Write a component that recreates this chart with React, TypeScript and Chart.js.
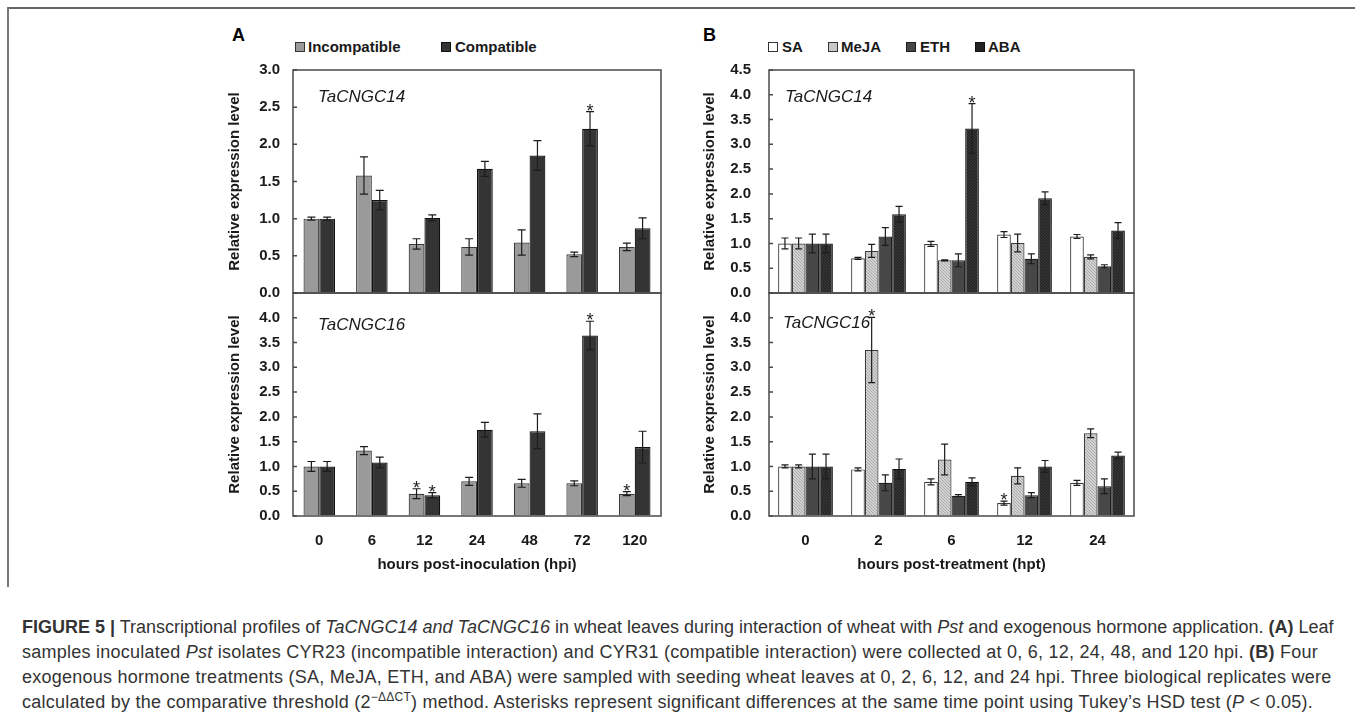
import React, { useEffect, useRef } from 'react';
import { Chart, registerables } from 'chart.js';
Chart.register(...registerables);

// ---------- data ----------
const hpiLabels = ['0', '6', '12', '24', '48', '72', '120'];
const hptLabels = ['0', '2', '6', '12', '24'];

// Panel A, TaCNGC14
const a14Incompatible = [1.0, 1.58, 0.66, 0.62, 0.68, 0.52, 0.62];
const a14IncompatibleErr = [0.02, 0.25, 0.07, 0.11, 0.17, 0.03, 0.05];
const a14IncompatibleStar = [0, 0, 0, 0, 0, 0, 0];
const a14Compatible = [1.0, 1.25, 1.01, 1.67, 1.85, 2.21, 0.87];
const a14CompatibleErr = [0.02, 0.13, 0.04, 0.1, 0.2, 0.23, 0.14];
const a14CompatibleStar = [0, 0, 0, 0, 0, 1, 0];

// Panel A, TaCNGC16
const a16Incompatible = [1.0, 1.32, 0.45, 0.7, 0.66, 0.66, 0.45];
const a16IncompatibleErr = [0.1, 0.08, 0.1, 0.08, 0.08, 0.05, 0.04];
const a16IncompatibleStar = [0, 0, 1, 0, 0, 0, 1];
const a16Compatible = [1.0, 1.08, 0.42, 1.74, 1.71, 3.64, 1.39];
const a16CompatibleErr = [0.1, 0.11, 0.05, 0.15, 0.35, 0.29, 0.32];
const a16CompatibleStar = [0, 0, 1, 0, 0, 1, 0];

// Panel B, TaCNGC14
const b14SA = [1.0, 0.7, 0.99, 1.18, 1.14];
const b14SAErr = [0.11, 0.02, 0.05, 0.06, 0.04];
const b14MeJA = [1.0, 0.85, 0.66, 1.01, 0.73];
const b14MeJAErr = [0.11, 0.13, 0.01, 0.18, 0.04];
const b14ETH = [1.0, 1.14, 0.66, 0.69, 0.54];
const b14ETHErr = [0.19, 0.18, 0.13, 0.1, 0.03];
const b14ABA = [1.0, 1.59, 3.32, 1.91, 1.26];
const b14ABAErr = [0.19, 0.16, 0.5, 0.13, 0.16];
const b14ABAStar = [0, 0, 1, 0, 0];

// Panel B, TaCNGC16
const b16SA = [1.0, 0.94, 0.69, 0.26, 0.67];
const b16SAErr = [0.03, 0.03, 0.06, 0.04, 0.05];
const b16SAStar = [0, 0, 0, 1, 0];
const b16MeJA = [1.0, 3.35, 1.14, 0.81, 1.67];
const b16MeJAErr = [0.03, 0.66, 0.31, 0.16, 0.09];
const b16MeJAStar = [0, 1, 0, 0, 0];
const b16ETH = [1.0, 0.67, 0.41, 0.42, 0.6];
const b16ETHErr = [0.25, 0.16, 0.02, 0.05, 0.15];
const b16ABA = [1.0, 0.95, 0.69, 1.0, 1.22];
const b16ABAErr = [0.25, 0.2, 0.08, 0.12, 0.07];

const noStars5 = [0, 0, 0, 0, 0];

const FONT = "'Liberation Sans', Arial, Helvetica, sans-serif";

function makePattern(base: string, dot: string): any {
  const c = document.createElement('canvas');
  c.width = 3;
  c.height = 3;
  const g = c.getContext('2d')!;
  g.fillStyle = base;
  g.fillRect(0, 0, 3, 3);
  g.fillStyle = dot;
  g.fillRect(0, 0, 1, 1);
  g.fillRect(1, 1, 1, 1);
  g.fillRect(2, 2, 1, 1);
  return g.createPattern(c, 'repeat');
}

const framePlugin = {
  id: 'frameAndErrors',
  afterDatasetsDraw(chart: any) {
    const ctx = chart.ctx;
    const ys = chart.scales.y;
    chart.data.datasets.forEach((ds: any, i: number) => {
      const meta = chart.getDatasetMeta(i);
      meta.data.forEach((bar: any, j: number) => {
        const v = ds.data[j];
        const e = ds.errors[j];
        const x = bar.x;
        const top = ys.getPixelForValue(v + e);
        const bot = ys.getPixelForValue(v - e);
        const cap = ds.capWidth / 2;
        ctx.save();
        ctx.strokeStyle = '#1c1c1c';
        ctx.lineWidth = 1.2;
        ctx.beginPath();
        ctx.moveTo(x, top);
        ctx.lineTo(x, bot);
        ctx.moveTo(x - cap, top);
        ctx.lineTo(x + cap, top);
        ctx.moveTo(x - cap, bot);
        ctx.lineTo(x + cap, bot);
        ctx.stroke();
        if (ds.stars[j]) {
          ctx.fillStyle = '#1c1c1c';
          ctx.font = `18px ${FONT}`;
          ctx.textAlign = 'center';
          ctx.textBaseline = 'alphabetic';
          ctx.fillText('*', x, top + 5);
        }
        ctx.restore();
      });
    });
  },
  afterDraw(chart: any) {
    const ctx = chart.ctx;
    const a = chart.chartArea;
    const ys = chart.scales.y;
    ctx.save();
    ctx.strokeStyle = '#4a4a4a';
    ctx.lineWidth = 1.5;
    ctx.strokeRect(a.left, a.top, a.right - a.left, a.bottom - a.top);
    ctx.beginPath();
    ys.ticks.forEach((t: any) => {
      const y = ys.getPixelForValue(t.value);
      ctx.moveTo(a.left, y);
      ctx.lineTo(a.left + 4, y);
    });
    ctx.stroke();
    ctx.restore();
  },
};

interface SeriesDef {
  label: string;
  data: number[];
  errors: number[];
  stars: number[];
  bg: any;
  border: string;
}

function buildConfig(
  labels: string[],
  series: SeriesDef[],
  yMax: number,
  hideTopLabel: boolean,
  xTitle: string | null,
  tickPad: number,
  titlePad: number,
  catPct: number,
  capWidth: number
): any {
  const tickFont = { family: FONT, size: 15, weight: 'bold' as const };
  const xScale: any = {
    display: !!xTitle,
    grid: { display: false, drawTicks: false },
    border: { display: false },
    ticks: { font: tickFont, color: '#1a1a1a', padding: 16, maxRotation: 0, autoSkip: false },
    title: {
      display: !!xTitle,
      text: xTitle || '',
      font: tickFont,
      color: '#1a1a1a',
      padding: { top: 0, bottom: 2 },
    },
  };
  if (xTitle) {
    xScale.afterFit = (scale: any) => {
      scale.height = 60;
    };
  }
  return {
    type: 'bar',
    data: {
      labels,
      datasets: series.map((s) => ({
        label: s.label,
        data: s.data,
        errors: s.errors,
        stars: s.stars,
        capWidth,
        backgroundColor: s.bg,
        borderColor: s.border,
        borderWidth: 1.2,
        categoryPercentage: catPct,
        barPercentage: 1.0,
      })),
    },
    options: {
      responsive: false,
      animation: false,
      devicePixelRatio: 1,
      layout: { padding: { top: 10, right: 10, bottom: xTitle ? 0 : 10, left: 0 } },
      plugins: { legend: { display: false }, tooltip: { enabled: false } },
      scales: {
        x: xScale,
        y: {
          min: 0,
          max: yMax,
          grid: {
            display: true,
            drawOnChartArea: false,
            drawTicks: true,
            tickLength: tickPad,
            color: 'rgba(0,0,0,0)',
            tickColor: 'rgba(0,0,0,0)',
          },
          border: { display: false },
          ticks: {
            stepSize: 0.5,
            autoSkip: false,
            font: tickFont,
            color: '#1a1a1a',
            padding: 0,
            callback: (v: number) => (hideTopLabel && Math.abs(v - yMax) < 1e-6 ? '' : Number(v).toFixed(1)),
          },
          title: {
            display: true,
            text: 'Relative expression level',
            font: tickFont,
            color: '#1a1a1a',
            padding: { top: titlePad, bottom: 0 },
          },
          afterFit: (scale: any) => {
            scale.width = 93;
          },
        },
      },
    },
    plugins: [framePlugin],
  };
}

function ChartBox(props: { left: number; top: number; width: number; height: number; make: () => any }) {
  const ref = useRef<HTMLCanvasElement | null>(null);
  useEffect(() => {
    if (!ref.current) return;
    const chart = new Chart(ref.current, props.make());
    return () => chart.destroy();
  }, []);
  return (
    <canvas
      ref={ref}
      width={props.width}
      height={props.height}
      style={{ position: 'absolute', left: props.left, top: props.top, width: props.width, height: props.height }}
    />
  );
}

const abs = (left: number, top: number, extra: any = {}): any => ({
  position: 'absolute',
  left,
  top,
  whiteSpace: 'nowrap',
  ...extra,
});

function LegendItem(props: { x: number; textX: number; label: string; fill: string; border: string }) {
  return (
    <>
      <div
        style={abs(props.x, 42, {
          width: 8,
          height: 8,
          background: props.fill,
          border: `1px solid ${props.border}`,
        })}
      />
      <div style={abs(props.textX, 37, { fontSize: 15, fontWeight: 'bold', lineHeight: '20px', color: '#1a1a1a' })}>
        {props.label}
      </div>
    </>
  );
}

export default function App() {
  const incompatibleColor = '#9a9a9a';
  const compatibleColor = '#343434';

  const makeA14 = () =>
    buildConfig(
      hpiLabels,
      [
        { label: 'Incompatible', data: a14Incompatible, errors: a14IncompatibleErr, stars: a14IncompatibleStar, bg: incompatibleColor, border: '#3a3a3a' },
        { label: 'Compatible', data: a14Compatible, errors: a14CompatibleErr, stars: a14CompatibleStar, bg: compatibleColor, border: '#111' },
      ],
      3.0,
      false,
      null,
      13,
      26,
      0.6,
      8
    );
  const makeA16 = () =>
    buildConfig(
      hpiLabels,
      [
        { label: 'Incompatible', data: a16Incompatible, errors: a16IncompatibleErr, stars: a16IncompatibleStar, bg: incompatibleColor, border: '#3a3a3a' },
        { label: 'Compatible', data: a16Compatible, errors: a16CompatibleErr, stars: a16CompatibleStar, bg: compatibleColor, border: '#111' },
      ],
      4.5,
      true,
      'hours post-inoculation (hpi)',
      13,
      26,
      0.6,
      8
    );
  const bSeries = (sa: number[], saE: number[], saS: number[], me: number[], meE: number[], meS: number[], et: number[], etE: number[], ab: number[], abE: number[], abS: number[]) => {
    const mejaPat = makePattern('#d2d2d2', '#ababab');
    const abaPat = makePattern('#262626', '#3c3c3c');
    return [
      { label: 'SA', data: sa, errors: saE, stars: saS, bg: '#ffffff', border: '#3c3c3c' },
      { label: 'MeJA', data: me, errors: meE, stars: meS, bg: mejaPat, border: '#3c3c3c' },
      { label: 'ETH', data: et, errors: etE, stars: noStars5, bg: '#474747', border: '#1e1e1e' },
      { label: 'ABA', data: ab, errors: abE, stars: abS, bg: abaPat, border: '#111' },
    ];
  };
  const makeB14 = () =>
    buildConfig(
      hptLabels,
      bSeries(b14SA, b14SAErr, noStars5, b14MeJA, b14MeJAErr, noStars5, b14ETH, b14ETHErr, b14ABA, b14ABAErr, b14ABAStar),
      4.5,
      false,
      null,
      18,
      25,
      0.75,
      7
    );
  const makeB16 = () =>
    buildConfig(
      hptLabels,
      bSeries(b16SA, b16SAErr, b16SAStar, b16MeJA, b16MeJAErr, b16MeJAStar, b16ETH, b16ETHErr, b16ABA, b16ABAErr, noStars5),
      4.5,
      true,
      'hours post-treatment (hpt)',
      18,
      25,
      0.75,
      7
    );

  const geneStyle = { fontSize: 17, fontStyle: 'italic', color: '#1a1a1a', lineHeight: '20px' };
  const captionStyle = { fontSize: 18, color: '#333', lineHeight: '22px', letterSpacing: '0.25px' };
  const captionStyle1 = { fontSize: 18, color: '#333', lineHeight: '22px', letterSpacing: '0px' };

  return (
    <div
      style={{
        position: 'absolute',
        left: 0,
        top: 0,
        width: 1355,
        height: 718,
        background: '#fff',
        overflow: 'hidden',
        fontFamily: FONT,
      }}
    >
      {/* frame */}
      <div style={abs(7, 7, { width: 1348, height: 2, background: '#666' })} />
      <div style={abs(7, 7, { width: 2, height: 580, background: '#777' })} />

      {/* panel letters */}
      <div style={abs(232, 25, { fontSize: 18, fontWeight: 'bold', lineHeight: '20px' })}>A</div>
      <div style={abs(703, 25, { fontSize: 18, fontWeight: 'bold', lineHeight: '20px' })}>B</div>

      {/* legends */}
      <LegendItem x={295} textX={308} label="Incompatible" fill={incompatibleColor} border="#333" />
      <LegendItem x={441} textX={455} label="Compatible" fill={compatibleColor} border="#111" />
      <LegendItem x={768} textX={782} label="SA" fill="#ffffff" border="#333" />
      <LegendItem x={828} textX={841} label="MeJA" fill="#c8c8c8" border="#333" />
      <LegendItem x={906} textX={920} label="ETH" fill="#474747" border="#1e1e1e" />
      <LegendItem x={975} textX={988} label="ABA" fill="#222" border="#111" />

      <ChartBox left={200} top={60} width={471} height={243} make={makeA14} />
      <ChartBox left={200} top={283} width={471} height={293} make={makeA16} />
      <ChartBox left={676} top={60} width={468} height={243} make={makeB14} />
      <ChartBox left={676} top={283} width={468} height={293} make={makeB16} />

      {/* gene labels */}
      <div style={abs(318, 87, geneStyle)}>TaCNGC14</div>
      <div style={abs(318, 315, geneStyle)}>TaCNGC16</div>
      <div style={abs(785, 87, geneStyle)}>TaCNGC14</div>
      <div style={abs(783, 313, geneStyle)}>TaCNGC16</div>

      {/* caption */}
      <div style={abs(22, 616, captionStyle1)}>
        <b>FIGURE 5 |</b> Transcriptional profiles of <i>TaCNGC14 and TaCNGC16</i> in wheat leaves during interaction of wheat
        with <i>Pst</i> and exogenous hormone application. <b>(A)</b> Leaf
      </div>
      <div style={abs(22, 641, captionStyle)}>
        samples inoculated <i>Pst</i> isolates CYR23 (incompatible interaction) and CYR31 (compatible interaction) were collected
        at 0, 6, 12, 24, 48, and 120 hpi. <b>(B)</b> Four
      </div>
      <div style={abs(22, 666, captionStyle)}>
        exogenous hormone treatments (SA, MeJA, ETH, and ABA) were sampled with seeding wheat leaves at 0, 2, 6, 12, and 24 hpi.
        Three biological replicates were
      </div>
      <div style={abs(22, 691, captionStyle)}>
        calculated by the comparative threshold (2
        <sup style={{ fontSize: 12, lineHeight: 0 }}>−ΔΔCT</sup>) method. Asterisks represent significant differences at the
        same time point using Tukey’s HSD test (<i>P</i> &lt; 0.05).
      </div>
    </div>
  );
}
